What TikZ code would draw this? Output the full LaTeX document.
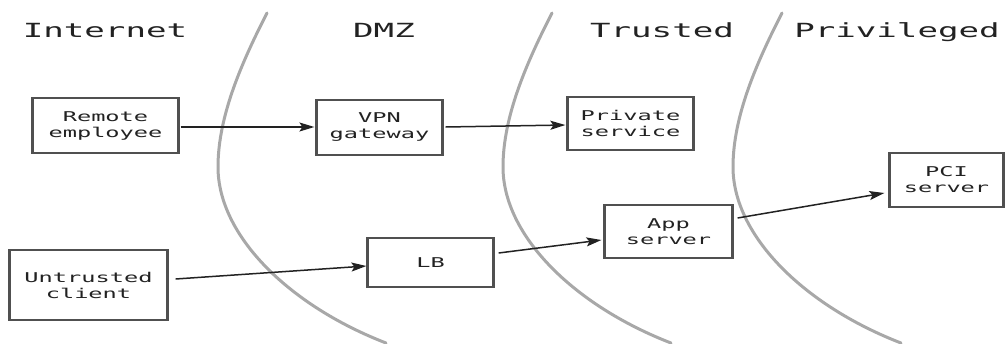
\documentclass[tikz,border=0pt]{standalone}
\usepackage{fontspec}
\newfontfamily\zonefont[FakeStretch=1.75]{DejaVu Sans Mono}
\usetikzlibrary{arrows.meta,calc}
\definecolor{zonegray}{RGB}{168,168,168}
\definecolor{ink}{RGB}{34,34,34}
\definecolor{boxline}{RGB}{80,80,80}
\begin{document}
\begin{tikzpicture}[x=1pt,y=-1pt,
  zone/.style={draw=zonegray, line width=3pt, line cap=round},
  host/.style={draw=boxline, line width=1.2pt, align=center, inner sep=0pt,
    font=\zonefont\fontsize{13.5}{16}\selectfont, text=ink},
  hostside/.style={draw=boxline, line width=2pt},
  zonetitle/.style={anchor=base, inner sep=0pt,
    font=\zonefont\fontsize{19.5}{22}\selectfont, text=ink},
  link/.style={draw=ink, line width=1.5pt,
    -{Stealth[length=15pt,width=9pt,inset=3pt]}}]

\useasboundingbox (0,0) rectangle (1007,343);

% zone boundaries: same curve, shifted to each border
\begin{scope}
  \clip (0,0) rectangle (1007,343);
  \foreach \L in {218,503,733}{
    \draw[zone] (\L+49,13) .. controls (\L+25,60) and (\L,115) .. (\L,167)
                .. controls (\L,235) and (\L+70,305) .. (\L+168,343);
  }
\end{scope}

% zone titles
\node[zonetitle] (tinternet) at (105,37) {Internet};
\node[zonetitle] (tdmz)      at (384,37) {DMZ};
\node[zonetitle] (ttrusted)  at (662,37) {Trusted};
\node[zonetitle] (tpriv)     at (897,37) {Privileged};

% hosts
\node[host, minimum width=145pt, minimum height=55pt] (remote)    at (105.5,125.5) {Remote\\employee};
\node[host, minimum width=125pt, minimum height=55pt] (vpn)       at (379.5,127.5) {VPN\\gateway};
\node[host, minimum width=125pt, minimum height=53pt] (private)   at (630.5,123.5) {Private\\service};
\node[host, minimum width=113pt, minimum height=54pt] (pci)       at (946.5,180)   {PCI\\server};
\node[host, minimum width=157pt, minimum height=70pt] (untrusted) at (88.5,285)    {Untrusted\\client};
\node[host, minimum width=125pt, minimum height=49pt] (lb)        at (430.5,262.5) {LB};
\node[host, minimum width=127pt, minimum height=53pt] (app)       at (668.5,231.5) {App\\server};

% heavier side edges of the host boxes
\foreach \n in {remote,vpn,private,pci,untrusted,lb,app}{
  \draw[hostside] (\n.north west) -- (\n.south west)
                  (\n.north east) -- (\n.south east);
}

% traffic flows
\draw[link] ($(remote.east)+(2,1.5)$)    -- ($(vpn.west)+(-2,-0.5)$);
\draw[link] ($(vpn.east)+(3,-0.5)$)      -- ($(private.west)+(-2,1.5)$);
\draw[link] ($(untrusted.east)+(8,-6)$)  -- ($(lb.west)+(-1,3.5)$);
\draw[link] ($(lb.east)+(5,-9.5)$)       -- ($(app.west)+(-3,8.5)$);
\draw[link] ($(app.east)+(5,-13.5)$)     -- ($(pci.west)+(-5,13)$);
\end{tikzpicture}
\end{document}
